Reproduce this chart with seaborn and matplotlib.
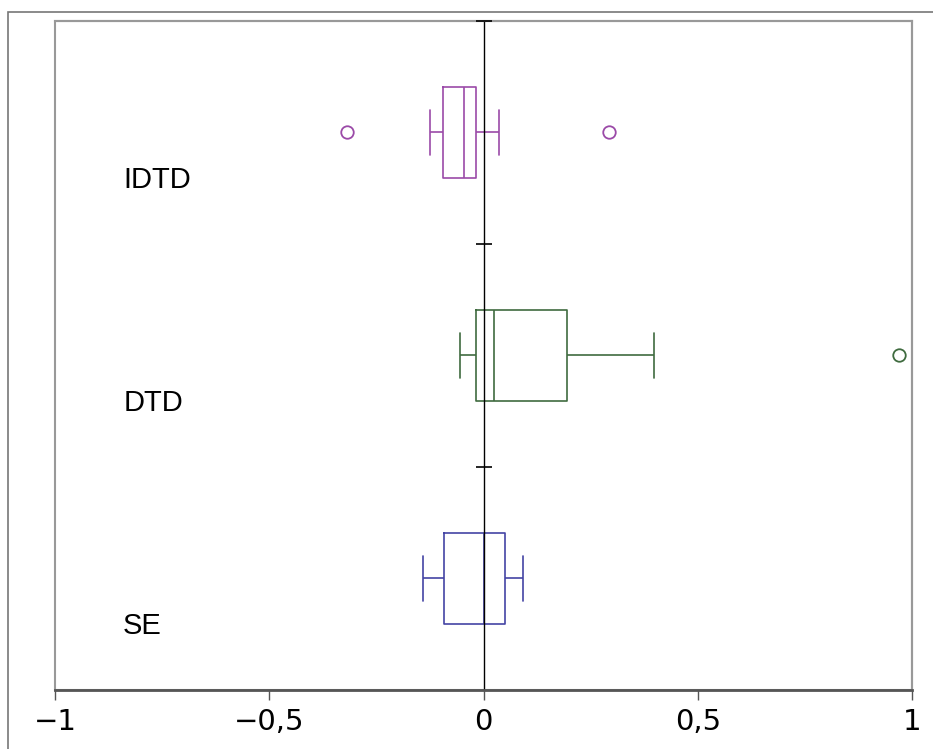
import matplotlib

matplotlib.use("Agg")
import matplotlib.pyplot as plt
import matplotlib.patches as mpatches
import pandas as pd
import seaborn as sns

# values (whisker ends, quartiles, median, outliers)
groups = ["IDTD", "DTD", "SE"]
idtd_values = [-0.318, -0.124, -0.094, -0.094, -0.045, -0.0175, -0.0175, 0.036, 0.293]
dtd_values = [-0.0556, -0.0175, -0.0175, 0.0245, 0.0245, 0.194, 0.194, 0.397, 0.97]
se_values = [-0.142, -0.0915, 0.0, 0.051, 0.0915]
group_colors = ["#9b4aa8", "#3f6b3f", "#4444a4"]
x_ticks = [-1, -0.5, 0, 0.5, 1]
x_tick_labels = ["\u22121", "\u22120,5", "0", "0,5", "1"]

df = pd.DataFrame(
    {
        "group": ["IDTD"] * len(idtd_values)
        + ["DTD"] * len(dtd_values)
        + ["SE"] * len(se_values),
        "value": idtd_values + dtd_values + se_values,
    }
)

sns.set_style("white")
plt.rcParams["font.family"] = ["DejaVu Sans"]
plt.rcParams["text.color"] = "black"
plt.rcParams["xtick.color"] = "black"

fig = plt.figure(figsize=(9.33, 7.49), dpi=100)
ax = fig.add_axes([0.059, 0.079, 0.9185, 0.893])

sns.boxplot(
    data=df,
    x="value",
    y="group",
    hue="group",
    order=groups,
    hue_order=groups,
    palette=group_colors,
    fill=False,
    width=0.41,
    linewidth=1.2,
    fliersize=9,
    whis=1.5,
    legend=False,
    ax=ax,
)

# fliers as hollow circles in each group's colour
for line in ax.lines:
    if line.get_marker() == "o":
        line.set_markerfacecolor("none")
        line.set_markeredgewidth(1.3)

ax.set_xlim(-1, 1)
ax.set_ylim(2.5, -0.5)
ax.set_xlabel("")
ax.set_ylabel("")

ax.set_xticks(x_ticks)
ax.set_xticklabels(x_tick_labels, fontsize=21, color="black")
ax.tick_params(axis="x", bottom=True, direction="out", length=7, width=1,
               color="#555555", pad=6)

# y axis drawn through zero, ticks on the group boundaries
ax.spines["left"].set_position(("data", 0))
ax.spines["left"].set_color("black")
ax.spines["left"].set_linewidth(1)
ax.set_yticks([-0.5, 0.5, 1.5])
ax.set_yticklabels([])
ax.tick_params(axis="y", left=True, direction="inout", length=12, width=1.2,
               color="black")
ax.yaxis.set_zorder(4)

for side in ["top", "right"]:
    ax.spines[side].set_color("#999999")
    ax.spines[side].set_linewidth(1.5)
ax.spines["bottom"].set_color("#555555")
ax.spines["bottom"].set_linewidth(2)

# grey frame for the left edge of the plot area
ax.add_patch(
    mpatches.Rectangle(
        (0, 0), 1, 1, transform=ax.transAxes, fill=False,
        edgecolor="#999999", linewidth=1.5, zorder=0, clip_on=False,
    )
)

for i, name in enumerate(groups):
    ax.text(-0.841, i + 0.215, name, fontsize=21, va="center", ha="left",
            color="black", family=["Liberation Sans", "DejaVu Sans"])

# outer border of the figure
border = mpatches.Rectangle(
    (0.009, -0.05), 1.05, 1.034, transform=fig.transFigure,
    fill=False, edgecolor="#777777", linewidth=1.2,
)
fig.patches.append(border)

fig.savefig("out.png", dpi=100)
